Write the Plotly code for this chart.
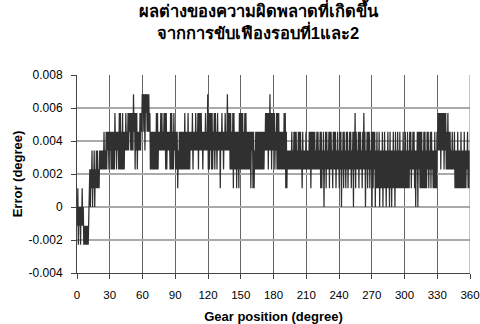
import plotly.graph_objects as go

# Quantisation step of the measured error (degree)
Q = 0.00114

# Per-degree minimum level (in steps of Q), degrees 0..359
lo_level = [
    -1, -2, -1, -2, -1, -1, -2, -2, -2, -2,
    -2, 1, 0, 1, 0, 1, 0, 1, 1, 1,
    1, 2, 2, 2, 2, 2, 2, 2, 3, 2,
    3, 2, 2, 2, 2, 3, 2, 3, 2, 2,
    2, 2, 2, 2, 3, 3, 3, 3, 4, 3,
    3, 3, 4, 2, 3, 2, 3, 3, 3, 4,
    5, 4, 3, 5, 4, 4, 4, 2, 2, 2,
    2, 2, 2, 2, 2, 3, 3, 3, 3, 3,
    3, 2, 2, 3, 3, 2, 2, 2, 2, 3,
    2, 2, 1, 2, 2, 2, 2, 2, 2, 2,
    2, 2, 2, 2, 3, 3, 2, 3, 3, 3,
    3, 2, 3, 3, 3, 2, 3, 3, 3, 3,
    2, 2, 3, 2, 2, 3, 2, 3, 2, 3,
    3, 1, 3, 3, 2, 3, 3, 3, 3, 3,
    2, 2, 2, 1, 2, 2, 1, 2, 1, 2,
    2, 2, 2, 2, 2, 2, 2, 2, 2, 1,
    3, 1, 1, 2, 2, 2, 2, 2, 2, 2,
    2, 2, 3, 3, 3, 2, 3, 3, 2, 3,
    3, 2, 3, 2, 2, 2, 2, 2, 2, 2,
    2, 1, 1, 2, 2, 2, 2, 2, 2, 2,
    2, 2, 2, 2, 2, 2, 1, 2, 2, 2,
    2, 2, 2, 2, 1, 2, 2, 2, 2, 2,
    2, 2, 2, 1, 1, 2, 0, 2, 1, 2,
    2, 1, 2, 2, 1, 2, 2, 1, 2, 2,
    1, 2, 0, 2, 1, 2, 1, 2, 1, 2,
    2, 1, 2, 0, 2, 1, 2, 2, 1, 2,
    2, 1, 2, 2, 0, 2, 1, 2, 1, 2,
    0, 1, 2, 0, 1, 1, 1, 0, 1, 1,
    0, 1, 1, 0, 1, 1, 0, 1, 0, 1,
    1, 0, 1, 1, 1, 1, 1, 1, 1, 1,
    1, 1, 1, 1, 1, 2, 1, 2, 2, 1,
    0, 2, 0, 2, 1, 1, 1, 1, 1, 1,
    1, 2, 1, 2, 1, 2, 1, 1, 1, 1,
    3, 3, 3, 2, 3, 3, 2, 3, 2, 2,
    2, 2, 2, 2, 2, 2, 1, 1, 1, 1,
    1, 1, 1, 1, 1, 1, 1, 2, 1, 1,
]

# Per-degree maximum level (in steps of Q), degrees 0..359
hi_level = [
    1, 0, 0, 0, 1, 0, -1, -1, -1, -1,
    -1, 2, 2, 3, 2, 3, 2, 3, 3, 2,
    3, 3, 3, 3, 4, 3, 4, 4, 4, 4,
    4, 4, 4, 4, 5, 4, 4, 4, 5, 5,
    4, 5, 4, 4, 5, 4, 5, 5, 5, 5,
    5, 6, 5, 5, 5, 4, 4, 5, 5, 6,
    6, 6, 6, 6, 6, 6, 5, 4, 4, 4,
    4, 4, 5, 5, 4, 4, 5, 5, 4, 5,
    5, 5, 4, 4, 4, 5, 5, 4, 5, 4,
    4, 4, 3, 4, 4, 4, 4, 4, 5, 4,
    4, 5, 4, 4, 4, 5, 4, 4, 5, 4,
    5, 5, 5, 5, 4, 4, 4, 5, 4, 6,
    5, 5, 5, 5, 4, 5, 5, 4, 5, 4,
    4, 4, 5, 4, 4, 5, 4, 6, 5, 5,
    5, 4, 5, 5, 4, 4, 4, 4, 5, 5,
    5, 5, 4, 5, 5, 4, 4, 4, 4, 4,
    4, 4, 3, 4, 4, 4, 4, 4, 4, 4,
    4, 4, 5, 5, 5, 5, 6, 5, 5, 5,
    5, 4, 5, 5, 5, 4, 4, 4, 4, 5,
    5, 4, 3, 3, 3, 3, 4, 3, 4, 4,
    4, 3, 4, 4, 4, 3, 4, 3, 3, 4,
    3, 3, 4, 4, 4, 4, 4, 4, 3, 4,
    4, 3, 4, 4, 3, 4, 3, 4, 4, 3,
    4, 4, 4, 3, 4, 4, 4, 3, 4, 3,
    4, 4, 3, 4, 4, 3, 4, 4, 3, 4,
    4, 3, 4, 4, 5, 4, 3, 4, 4, 4,
    3, 4, 5, 4, 3, 4, 4, 4, 3, 4,
    4, 4, 4, 3, 4, 3, 4, 3, 3, 4,
    3, 4, 3, 3, 4, 3, 4, 3, 3, 4,
    3, 4, 3, 4, 3, 4, 3, 3, 4, 3,
    4, 3, 4, 3, 4, 4, 3, 4, 4, 3,
    3, 4, 4, 4, 4, 4, 3, 4, 4, 3,
    4, 4, 3, 4, 4, 3, 3, 4, 3, 4,
    5, 5, 5, 5, 5, 5, 5, 5, 4, 5,
    4, 4, 3, 4, 3, 4, 3, 3, 4, 3,
    3, 4, 3, 3, 4, 3, 3, 4, 3, 3,
]

x_ticks = [0, 30, 60, 90, 120, 150, 180, 210, 240, 270, 300, 330, 360]
y_ticks = [-0.004, -0.002, 0, 0.002, 0.004, 0.006, 0.008]
y_tick_text = ["-0.004", "-0.002", "0", "0.002", "0.004", "0.006", "0.008"]

title_text = "ผลต่างของความผิดพลาดที่เกิดขึ้น<br>จากการขับเฟืองรอบที่1และ2"
x_title = "Gear position (degree)"
y_title = "Error (degree)"

xs, ys = [], []
for d, (lo, hi) in enumerate(zip(lo_level, hi_level)):
    xs += [d + 0.25, d + 0.75]
    ys += [lo * Q, hi * Q]

fig = go.Figure()
fig.add_trace(go.Scatter(x=xs, y=ys, mode="lines",
                         line=dict(color="#303030", width=1.25),
                         showlegend=False, hoverinfo="skip"))

font_family = "Arial, 'Liberation Sans', 'Noto Sans', sans-serif"
fig.update_layout(
    width=480, height=324,
    margin=dict(l=77, r=10, t=75, b=51, autoexpand=False),
    paper_bgcolor="white", plot_bgcolor="white",
    font=dict(family=font_family, color="black", size=12),
    title=dict(text="<b>" + title_text + "</b>", x=0.5375, xanchor="center",
               y=0.947, yanchor="top", font=dict(size=16.5, family=font_family)),
)
fig.update_xaxes(range=[0, 360], tickvals=x_ticks, ticks="outside", ticklen=5,
                 tickcolor="#444444", showline=True, linecolor="#444444", linewidth=1,
                 showgrid=True, gridcolor="#666666", gridwidth=1, zeroline=False,
                 mirror=False, tickfont=dict(size=11.5), automargin=False,
                 ticklabeloverflow="allow", ticklabelstandoff=6,
                 title=dict(text="<b>" + x_title + "</b>", font=dict(size=13), standoff=17))
fig.update_yaxes(range=[-0.004, 0.008], tickvals=y_ticks, ticktext=y_tick_text,
                 ticks="outside", ticklen=5, tickcolor="#444444",
                 showline=True, linecolor="#444444", linewidth=1,
                 showgrid=True, gridcolor="#aaaaaa", gridwidth=1.5, zeroline=False,
                 tickfont=dict(size=12), automargin=False, ticklabelstandoff=6,
                 ticklabeloverflow="allow",
                 title=dict(text="<b>" + y_title + "</b>", font=dict(size=13), standoff=3))
# right frame line
fig.add_shape(type="line", xref="x", yref="paper", x0=360, x1=360, y0=0, y1=1,
              line=dict(color="#888888", width=1))

fig.write_html("out.html", config={"displayModeBar": False, "staticPlot": True},
               post_script="document.body.style.margin='0';document.body.style.overflow='hidden';")
